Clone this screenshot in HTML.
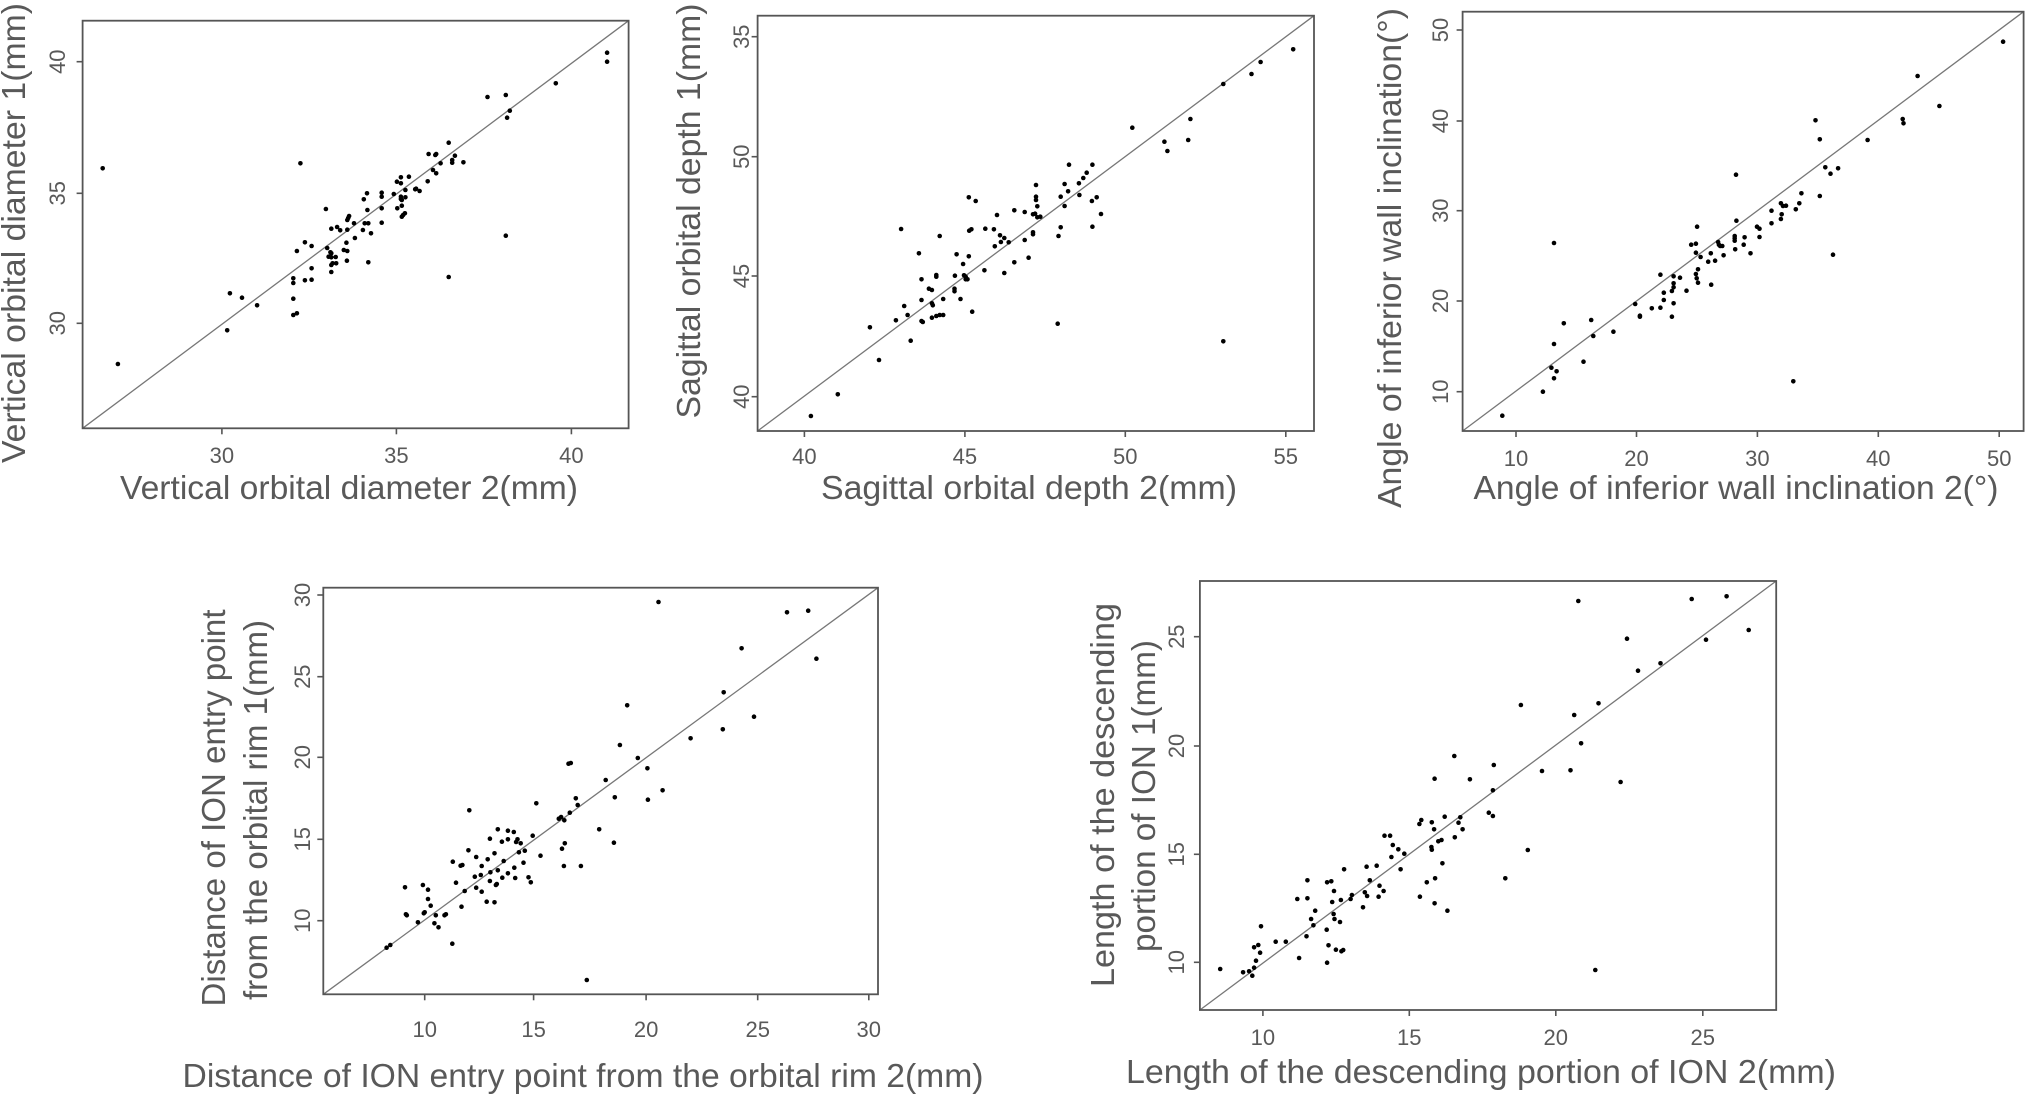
<!DOCTYPE html>
<html><head><meta charset="utf-8"><style>
html,body{margin:0;padding:0;background:#fff;}
svg{display:block;}
text{font-family:"Liberation Sans",Arial,sans-serif;fill:#595959;}
</style></head><body>
<svg id="s" xmlns="http://www.w3.org/2000/svg" width="2030" height="1094" viewBox="0 0 2030 1094"></svg>
<script>
var P=[
{x0:0,y0:0,w:700,box:[185,62,1408,1285],xt:[[497,"30"],[888,"35"],[1280,"40"]],yt:[[185,"40"],[580,"35"],[970,"30"]],xb:463,yb:65,
xl:["Vertical orbital diameter 2(mm)",349,499,458],yl:[["Vertical orbital diameter 1(mm)",233,25,460]],
pts:[[230,505],[264,1092],[673,490],[509,991],[515,880],[542,893],[576,916],[657,835],[657,849],[657,896],[657,945],[665,940],[665,753],[683,727],[698,738],[683,841],[698,839],[698,805],[733,744],[730,627],[742,686],[755,681],[762,691],[736,770],[740,757],[742,760],[742,772],[752,771],[742,795],[745,790],[753,790],[742,816],[770,750],[776,728],[778,753],[777,782],[778,689],[778,660],[780,654],[782,648],[793,670],[795,714],[813,690],[815,598],[817,670],[822,580],[823,630],[825,670],[825,787],[831,700],[855,578],[855,590],[855,625],[855,668],[882,582],[889,545],[890,625],[898,532],[898,550],[898,590],[898,597],[900,600],[900,617],[900,650],[903,645],[907,640],[908,570],[908,592],[916,530],[930,568],[932,566],[940,573],[958,544],[960,462],[970,510],[975,465],[977,520],[977,462],[987,490],[1005,428],[1005,831],[1013,488],[1013,480],[1019,467],[1038,487],[1092,291],[1133,285],[1133,707],[1136,353],[1142,332],[1245,250],[1360,185],[1360,158]]},
{x0:660,y0:0,w:680,box:[225,47,1508,1293],xt:[[333,"40"],[703,"45"],[1073,"50"],[1443,"55"]],yt:[[110,"35"],[470,"50"],[828,"45"],[1190,"40"]],xb:464,yb:749,
xl:["Sagittal orbital depth 2(mm)",1029,499,416],yl:[["Sagittal orbital depth 1(mm)",211,700,415]],
pts:[[348,1248],[410,1183],[484,982],[505,1080],[544,961],[556,687],[563,918],[571,945],[578,1022],[597,760],[603,838],[603,900],[603,963],[606,966],[620,866],[627,870],[627,910],[629,916],[627,953],[637,948],[637,825],[637,830],[645,708],[645,945],[653,945],[653,897],[679,866],[679,874],[680,827],[684,763],[693,897],[699,792],[701,826],[705,838],[705,830],[709,838],[712,769],[712,592],[713,692],[718,688],[720,935],[728,603],[748,811],[750,686],[770,688],[772,739],[777,645],[784,706],[786,726],[794,714],[794,819],[804,727],[817,631],[817,787],[841,720],[841,636],[850,773],[860,703],[860,697],[860,643],[865,641],[867,555],[867,590],[867,600],[870,619],[870,652],[877,650],[917,971],[919,708],[924,682],[924,590],[933,618],[933,552],[941,574],[943,494],[966,550],[967,585],[976,534],[984,518],[996,603],[997,680],[997,494],[1007,592],[1017,642],[1089,383],[1163,425],[1170,453],[1218,420],[1223,357],[1299,252],[1299,1024],[1364,222],[1385,186],[1460,148]]},
{x0:1360,y0:0,w:670,box:[240,35,1553,1293],xt:[[365,"10"],[647,"20"],[930,"30"],[1213,"40"],[1496,"50"]],yt:[[90,"50"],[363,"40"],[632,"30"],[903,"20"],[1175,"10"]],xb:466,yb:1448,
xl:["Angle of inferior wall inclination 2(°)",1736,499,525],yl:[["Angle of inferior wall inclination(°)",258,1401,500]],
pts:[[333,1247],[428,1175],[448,1103],[454,1135],[454,1032],[460,1114],[454,729],[477,970],[523,1085],[541,960],[546,1008],[593,995],[644,912],[655,947],[655,950],[683,925],[703,824],[703,923],[711,878],[711,900],[730,950],[730,873],[734,910],[734,829],[734,862],[734,850],[749,833],[764,872],[775,734],[786,758],[786,731],[786,822],[788,835],[789,680],[791,848],[791,808],[797,771],[815,785],[821,760],[822,854],[831,782],[838,726],[840,734],[843,738],[848,738],[851,766],[877,708],[877,715],[877,722],[878,748],[880,524],[881,662],[898,734],[900,712],[914,760],[929,680],[935,686],[935,711],[963,632],[963,670],[985,610],[985,657],[987,643],[990,618],[997,617],[1020,628],[1014,1144],[1028,610],[1033,580],[1066,361],[1076,418],[1076,588],[1089,502],[1101,521],[1107,764],[1119,505],[1188,420],[1270,357],[1272,370],[1305,228],[1356,318],[1505,125]]},
{x0:180,y0:560,w:720,box:[312,83,1520,1303],xt:[[533,"10"],[770,"15"],[1015,"20"],[1258,"25"],[1500,"30"]],yt:[[105,"30"],[350,"25"],[592,"20"],[838,"15"],[1082,"10"]],xb:1037,yb:310,
xl:["Distance of ION entry point from the orbital rim 2(mm)",583,1087,801],yl:[["Distance of ION entry point",808,225,397],["from the orbital rim 1(mm)",810,267,380]],
pts:[[450,1163],[458,1155],[490,982],[492,1063],[494,1066],[518,1087],[529,975],[531,1060],[533,1057],[540,989],[540,1017],[546,1037],[554,1090],[557,1066],[563,1102],[576,1066],[579,1063],[593,1151],[594,905],[601,968],[611,917],[615,915],[613,1040],[620,993],[628,871],[630,751],[642,950],[645,983],[645,891],[655,945],[657,995],[657,918],[668,1025],[670,898],[675,963],[676,937],[675,836],[685,1027],[685,880],[688,975],[690,972],[692,931],[692,808],[701,845],[702,953],[705,903],[714,940],[714,838],[714,812],[727,816],[728,923],[730,954],[732,846],[735,838],[738,877],[742,850],[748,908],[751,872],[759,952],[764,967],[768,827],[776,730],[785,887],[825,776],[830,771],[832,866],[836,918],[837,781],[838,850],[846,611],[851,609],[849,758],[862,715],[866,735],[873,918],[886,1260],[913,808],[927,660],[945,848],[947,712],[958,555],[974,436],[997,594],[1018,625],[1019,719],[1051,691],[1042,126],[1112,535],[1182,508],[1184,397],[1223,265],[1250,470],[1322,157],[1368,152],[1386,296]]},
{x0:1070,y0:570,w:720,box:[283,33,1538,1320],xt:[[420,"10"],[739,"15"],[1058,"20"],[1378,"25"]],yt:[[200,"25"],[528,"20"],[853,"15"],[1177,"10"]],xb:1045,yb:1184,
xl:["Length of the descending portion of ION 2(mm)",1481,1083,710],yl:[["Length of the descending",795,1114,384],["portion of ION 1(mm)",796,1155,312]],
pts:[[327,1197],[377,1207],[390,1204],[397,1217],[401,1193],[401,1132],[405,1172],[410,1125],[414,1148],[416,1069],[448,1115],[470,1115],[495,987],[499,1164],[515,1099],[517,931],[517,985],[525,1047],[530,1066],[534,1022],[559,1079],[560,937],[560,1178],[563,1126],[569,934],[571,996],[574,1032],[575,963],[576,1047],[579,1139],[588,1056],[590,990],[591,1144],[595,1140],[597,898],[611,987],[614,975],[638,1012],[642,967],[646,890],[647,978],[653,931],[668,887],[672,980],[674,947],[683,963],[685,797],[697,797],[700,861],[703,825],[715,838],[720,898],[728,851],[761,762],[762,980],[765,750],[777,937],[787,831],[788,757],[788,839],[793,778],[794,626],[794,1000],[795,925],[802,814],[809,810],[811,880],[816,740],[822,1022],[837,558],[838,802],[846,758],[850,742],[855,778],[871,628],[912,728],[921,738],[921,661],[923,585],[948,925],[982,405],[997,840],[1028,603],[1090,601],[1098,435],[1107,93],[1113,520],[1144,1200],[1151,400],[1199,636],[1213,206],[1237,302],[1286,280],[1354,87],[1385,209],[1430,79],[1478,180]]}
];
var h='';
P.forEach(function(p){
 var fx=function(z){return (p.x0+z*p.w/1568).toFixed(1);};
 var fy=function(z){return (p.y0+z/3).toFixed(1);};
 var L=fx(p.box[0]),T=fy(p.box[1]),R=fx(p.box[2]),B=fy(p.box[3]);
 h+='<line x1="'+L+'" y1="'+B+'" x2="'+R+'" y2="'+T+'" stroke="#777" stroke-width="1.3"/>';
 h+='<rect x="'+L+'" y="'+T+'" width="'+(R-L).toFixed(1)+'" height="'+(B-T).toFixed(1)+'" fill="none" stroke="#555" stroke-width="1.8"/>';
 p.xt.forEach(function(t){var x=fx(t[0]);h+='<line x1="'+x+'" y1="'+B+'" x2="'+x+'" y2="'+(+B+6)+'" stroke="#555" stroke-width="1.6"/><text x="'+x+'" y="'+p.xb+'" font-size="22" text-anchor="middle">'+t[1]+'</text>';});
 p.yt.forEach(function(t){var y=fy(t[0]);h+='<line x1="'+L+'" y1="'+y+'" x2="'+(L-6)+'" y2="'+y+'" stroke="#555" stroke-width="1.6"/><text transform="translate('+p.yb+','+y+') rotate(-90)" font-size="22" text-anchor="middle">'+t[1]+'</text>';});
 p.pts.forEach(function(q){h+='<circle cx="'+fx(q[0])+'" cy="'+fy(q[1])+'" r="2.3" fill="#000"/>';});
 h+='<text x="'+p.xl[1]+'" y="'+p.xl[2]+'" font-size="33" text-anchor="middle" textLength="'+p.xl[3]+'" lengthAdjust="spacingAndGlyphs">'+p.xl[0]+'</text>';
 p.yl.forEach(function(l){h+='<text transform="translate('+l[2]+','+l[1]+') rotate(-90)" font-size="33" text-anchor="middle" textLength="'+l[3]+'" lengthAdjust="spacingAndGlyphs">'+l[0]+'</text>';});
});
document.getElementById('s').innerHTML=h;
</script>
</body></html>
